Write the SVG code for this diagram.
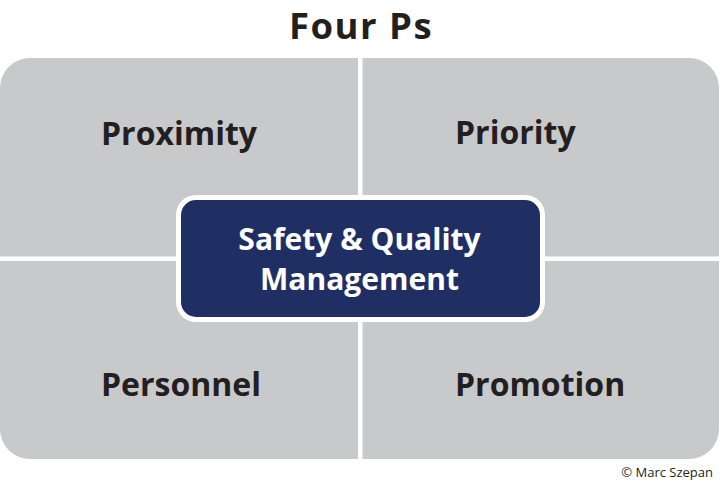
<svg xmlns="http://www.w3.org/2000/svg" width="720" height="500" viewBox="0 0 720 500">
<style>
.q{fill:#c8c9cb}
.lbl{font-family:"Open Sans","Noto Sans","Liberation Sans",sans-serif;font-weight:700;font-size:32px;fill:#231f20}
.ctr{font-family:"Open Sans","Noto Sans","Liberation Sans",sans-serif;font-weight:700;font-size:30px;fill:#ffffff;text-anchor:middle}
</style>
<rect width="720" height="500" fill="#ffffff"/>
<text x="361" y="39" class="lbl" style="font-size:36.5px;letter-spacing:1.5px" text-anchor="middle">Four Ps</text>
<g id="proximity">
<path class="q" d="M0,88 A30,30 0 0 1 30,58 H358 V256.5 H0 Z"/>
<text x="101" y="145" class="lbl">Proximity</text>
</g>
<g id="priority">
<path class="q" d="M362.5,58 H689 A30,30 0 0 1 719,88 V256.5 H362.5 Z"/>
<text x="455" y="144" class="lbl">Priority</text>
</g>
<g id="personnel">
<path class="q" d="M0,261 H358 V459 H30 A30,30 0 0 1 0,429 Z"/>
<text x="101" y="396" class="lbl">Personnel</text>
</g>
<g id="promotion">
<path class="q" d="M362.5,261 H719 V429 A30,30 0 0 1 689,459 H362.5 Z"/>
<text x="455" y="396" class="lbl">Promotion</text>
</g>
<g id="connectors"></g>
<g id="center">
<rect x="176" y="195" width="369" height="127" rx="20" fill="#ffffff"/>
<rect x="181" y="200" width="359" height="117" rx="15" fill="#1f2f64"/>
<text x="359.5" y="249.5" class="ctr">Safety &amp; Quality</text>
<text x="359.5" y="289.5" class="ctr">Management</text>
</g>
<text x="713" y="477" text-anchor="end" style="font-family:'Open Sans','Noto Sans','Liberation Sans',sans-serif;font-size:13px;fill:#231f20">© Marc Szepan</text>
</svg>
